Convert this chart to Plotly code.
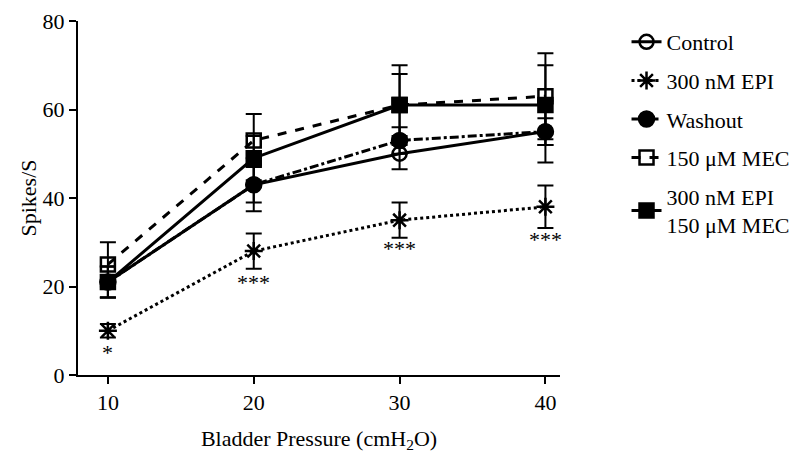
import plotly.graph_objects as go

pressure = [10, 20, 30, 40]

control = [21, 43, 50, 55]
control_err = [3.5, 4, 3.5, 7]

epi = [10, 28, 35, 38]
epi_err = [1.5, 4, 4, 4.8]

washout = [21, 43, 53, 55]
washout_err = [3.5, 6, 3, 3]

mec = [25, 53, 61, 63]
mec_err = [5, 6, 9, 9.7]

epi_mec = [21, 49, 61, 61]
epi_mec_err = [3.5, 5, 7, 9]

sig_x = [10, 20, 30, 40]
sig_y = [5, 21, 28.5, 30.7]
sig_text = ["*", "***", "***", "***"]

FONT = "Liberation Serif, Times New Roman, serif"

series = [
    ("Control", control, control_err, "solid", "circle-open", 14),
    ("300 nM EPI", epi, epi_err, "dot", "asterisk-open", 15),
    ("Washout", washout, washout_err, "dashdot", "circle", 15),
    ("150 μM MEC", mec, mec_err, "dash", "square-open", 14),
    ("300 nM EPI<br>150 μM MEC", epi_mec, epi_mec_err, "solid", "square", 14),
]

fig = go.Figure()
for i, (name, y, err, dash, sym, size) in enumerate(series):
    fig.add_trace(go.Scatter(
        x=pressure, y=y, name=name, mode="lines+markers",
        legendgroup=f"g{i}",
        line=dict(color="black", width=3, dash=dash),
        marker=dict(symbol=sym, size=size, color="black",
                    line=dict(color="black", width=2.5)),
        error_y=dict(type="data", array=err, visible=True, color="black",
                     thickness=2, width=8),
    ))

for x, y, t in zip(sig_x, sig_y, sig_text):
    fig.add_annotation(x=x, y=y, text=t, showarrow=False,
                       font=dict(family=FONT, size=22, color="black"))

fig.update_layout(
    width=799, height=463,
    margin=dict(l=70, r=247, t=13, b=96, autoexpand=False),
    paper_bgcolor="white", plot_bgcolor="white",
    font=dict(family=FONT, size=22, color="black"),
    legend=dict(x=1.138, y=1.0, xanchor="left", yanchor="top",
                font=dict(family=FONT, size=22, color="black"),
                tracegroupgap=7, traceorder="grouped",
                bgcolor="rgba(0,0,0,0)"),
    xaxis=dict(range=[7.95, 41], tickvals=[10, 20, 30, 40],
               showline=True, linecolor="black", linewidth=2,
               ticks="outside", tickcolor="black", ticklen=7, tickwidth=2,
               showgrid=False, zeroline=False, ticklabeloverflow="allow",
               tickfont=dict(family=FONT, size=22, color="black"),
               title=dict(text="Bladder Pressure (cmH<sub>2</sub>O)",
                          font=dict(family=FONT, size=22, color="black"),
                          standoff=16)),
    yaxis=dict(range=[0, 80], tickvals=[0, 20, 40, 60, 80],
               showline=True, linecolor="black", linewidth=2,
               ticks="outside", tickcolor="black", ticklen=7, tickwidth=2,
               showgrid=False, zeroline=False, ticklabeloverflow="allow",
               tickfont=dict(family=FONT, size=22, color="black"),
               title=dict(text="Spikes/S",
                          font=dict(family=FONT, size=22, color="black"),
                          standoff=0)),
)

fig.write_html("out.html")
